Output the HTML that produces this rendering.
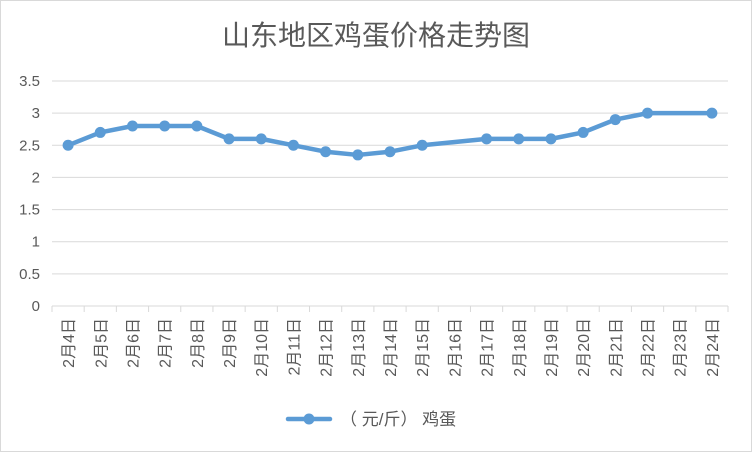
<!DOCTYPE html>
<html><head><meta charset="utf-8"><style>
body{margin:0;background:#fff}
svg{display:block;font-family:"Liberation Sans","Noto Sans CJK SC",sans-serif}
</style></head><body>
<svg id="c" width="752" height="452">
<rect x="0.5" y="0.5" width="751" height="451" fill="#fff" stroke="#d9d9d9"/>
<text x="376" y="45" text-anchor="middle" font-size="28" fill="#595959">山东地区鸡蛋价格走势图</text>
<g id="grid"></g><g id="xl"></g><g id="series"></g>
<g>
<line x1="288" y1="419" x2="330" y2="419" stroke="#5b9bd5" stroke-width="4.5" stroke-linecap="round"/>
<circle cx="309" cy="419" r="5.5" fill="#5b9bd5"/>
<text x="340" y="425" font-size="17" fill="#595959">（ 元/斤） 鸡蛋</text>
</g>
</svg>
<script>
const categories=["2月4日","2月5日","2月6日","2月7日","2月8日","2月9日","2月10日","2月11日","2月12日","2月13日","2月14日","2月15日","2月16日","2月17日","2月18日","2月19日","2月20日","2月21日","2月22日","2月23日","2月24日"];
const values=[2.5,2.7,2.8,2.8,2.8,2.6,2.6,2.5,2.4,2.35,2.4,2.5,null,2.6,2.6,2.6,2.7,2.9,3.0,null,3.0];
const yTicks=[0,0.5,1,1.5,2,2.5,3,3.5];
const NS="http://www.w3.org/2000/svg";
const L=52,R=728,T=81,B=306,yMax=3.5;
const step=(R-L)/categories.length;
const x=i=>L+step*(i+0.5);
const y=v=>B-(v/yMax)*(B-T);
function mk(t,a,p){const e=document.createElementNS(NS,t);for(const k in a)e.setAttribute(k,a[k]);p.appendChild(e);return e;}
const g=document.getElementById('grid');
yTicks.forEach(v=>{
 const l=mk('line',{x1:L,x2:R,y1:y(v),y2:y(v),stroke:'#d9d9d9','stroke-width':1},g);
 
 
 const t=mk('text',{x:40,y:y(v)+5,'text-anchor':'end','font-size':15,fill:'#595959'},g);
 t.textContent=String(v);
 
 
});
for(let i=0;i<=categories.length;i++){
 const tk=mk('line',{x1:L+step*i,x2:L+step*i,y1:B,y2:B+6,stroke:'#d9d9d9'},g);
 
 
}
const xl=document.getElementById('xl');
categories.forEach((c,i)=>{
 const t=mk('text',{x:0,y:0,'text-anchor':'end','font-size':16,fill:'#595959',transform:`translate(${x(i)+6},318) rotate(-90)`},xl);
 t.textContent=c;
 
 
});
const s=document.getElementById('series');
const pts=[];values.forEach((v,i)=>{if(v!=null)pts.push([x(i),y(v)]);});
const pl=mk('polyline',{points:pts.map(p=>p.join(',')).join(' '),fill:'none',stroke:'#5b9bd5','stroke-width':4.5,'stroke-linejoin':'round','stroke-linecap':'round'},s);


values.forEach((v,i)=>{if(v==null)return;
 const c=mk('circle',{cx:x(i),cy:y(v),r:5.5,fill:'#5b9bd5'},s);
 
 
});
</script>
</body></html>
